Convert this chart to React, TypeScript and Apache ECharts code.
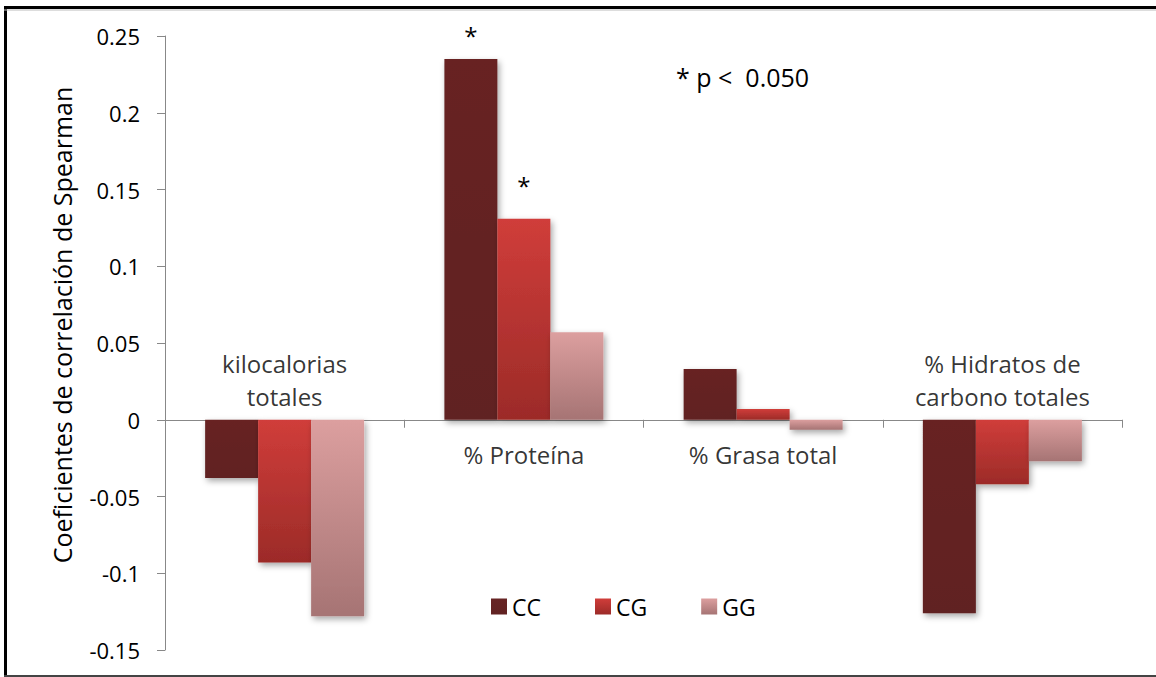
import React, { useEffect, useRef } from "react";
import * as echarts from "echarts";

const categories = ["kilocalorias\ntotales", "% Proteína", "% Grasa total", "% Hidratos de\ncarbono totales"];
const labelAbove = [true, false, false, true];
const seriesNames = ["CC", "CG", "GG"];
const ccValues = [-0.038, 0.235, 0.033, -0.126];
const cgValues = [-0.093, 0.131, 0.007, -0.042];
const ggValues = [-0.128, 0.057, -0.0065, -0.027];
const ccSignificant = [false, true, false, false];
const cgSignificant = [false, true, false, false];
const yTicks = { min: -0.15, max: 0.25, interval: 0.05 };
const yAxisTitle = "Coeficientes de correlación de Spearman";
const noteText = "* p <  0.050";

const FONT = "'Open Sans', 'Noto Sans', sans-serif";

const grad = (top: string, bottom: string) =>
  new echarts.graphic.LinearGradient(0, 0, 0, 1, [
    { offset: 0, color: top },
    { offset: 1, color: bottom },
  ]);

export default function App() {
  const ref = useRef<HTMLDivElement>(null);
  useEffect(() => {
    if (!ref.current) return;
    const chart = echarts.init(ref.current, undefined, { renderer: "svg" });
    const shadow = {
      shadowBlur: 6,
      shadowColor: "rgba(0,0,0,0.35)",
      shadowOffsetX: 2,
      shadowOffsetY: 3,
    };
    const mkData = (vals: number[], sig: boolean[] | null, dist: number) =>
      vals.map((v, i) =>
        sig && sig[i]
          ? {
              value: v,
              label: {
                show: true,
                position: "top",
                formatter: "*",
                distance: dist,
                fontSize: 24,
                color: "#000",
                fontFamily: FONT,
              },
            }
          : v
      );
    chart.setOption({
      animation: false,
      backgroundColor: "#fff",
      textStyle: { fontFamily: FONT },
      grid: { left: 165, right: 34, top: 36, bottom: 27, containLabel: false },
      legend: {
        data: seriesNames,
        left: 486,
        top: 590,
        itemWidth: 16,
        itemHeight: 16,
        itemGap: 54,
        icon: "rect",
        textStyle: { fontSize: 23, color: "#000", fontFamily: FONT, padding: [0, 0, 0, 0] },
      },
      xAxis: {
        type: "category",
        data: categories,
        axisLine: { onZero: true, lineStyle: { color: "#888", width: 1 } },
        axisTick: { show: true, length: 8, lineStyle: { color: "#888" } },
        axisLabel: { show: false },
      },
      yAxis: {
        type: "value",
        min: yTicks.min,
        max: yTicks.max,
        interval: yTicks.interval,
        axisLine: { show: true, lineStyle: { color: "#888" } },
        axisTick: { show: true, length: 8, lineStyle: { color: "#888" } },
        splitLine: { show: false },
        axisLabel: { fontSize: 22, color: "#000", margin: 25, fontFamily: FONT },
      },
      series: [
        {
          name: "CC",
          type: "bar",
          barWidth: 53,
          barGap: "0%",
          itemStyle: { color: grad("#672424", "#612222"), ...shadow },
          data: mkData(ccValues, ccSignificant, 12),
        },
        {
          name: "CG",
          type: "bar",
          barWidth: 53,
          barGap: "0%",
          itemStyle: { color: grad("#d03d3a", "#9c2b28"), ...shadow },
          data: mkData(cgValues, cgSignificant, 21),
        },
        {
          name: "GG",
          type: "bar",
          barWidth: 53,
          barGap: "0%",
          itemStyle: { color: grad("#dc9f9f", "#a67474"), ...shadow },
          data: mkData(ggValues, null, 0),
        },
        {
          name: "labels",
          type: "scatter",
          symbolSize: 0.1,
          itemStyle: { color: "transparent" },
          silent: true,
          data: categories.map((c, i) => ({
            value: [i, 0],
            label: {
              show: true,
              formatter: c,
              position: labelAbove[i] ? "top" : "bottom",
              distance: labelAbove[i] ? 7 : 18,
              fontSize: 24,
              lineHeight: 33,
              align: "center",
              color: "#000",
              fontFamily: FONT,
            },
          })),
        },
      ],
      graphic: [
        {
          type: "text",
          x: 62,
          y: 325,
          rotation: Math.PI / 2,
          style: {
            text: yAxisTitle,
            fontSize: 25,
            fill: "#000",
            fontFamily: FONT,
            align: "center",
            verticalAlign: "middle",
          },
        },
        {
          type: "text",
          left: 676,
          top: 64,
          style: { text: noteText, fontSize: 25, fill: "#000", fontFamily: FONT },
        },
        { type: "line", shape: { x1: 5.5, y1: 6, x2: 5.5, y2: 677 }, style: { stroke: "#000", lineWidth: 3 } },
        { type: "line", shape: { x1: 4, y1: 7.5, x2: 1156, y2: 7.5 }, style: { stroke: "#000", lineWidth: 3 } },
        { type: "line", shape: { x1: 4, y1: 10, x2: 1156, y2: 10 }, style: { stroke: "#bbb", lineWidth: 1 } },
        { type: "line", shape: { x1: 4, y1: 676, x2: 1156, y2: 676 }, style: { stroke: "#444", lineWidth: 2 } },
      ],
    });
    return () => chart.dispose();
  }, []);
  return (
    <div
      ref={ref}
      style={{ position: "fixed", left: 0, top: 0, width: 1156, height: 677 }}
    />
  );
}
